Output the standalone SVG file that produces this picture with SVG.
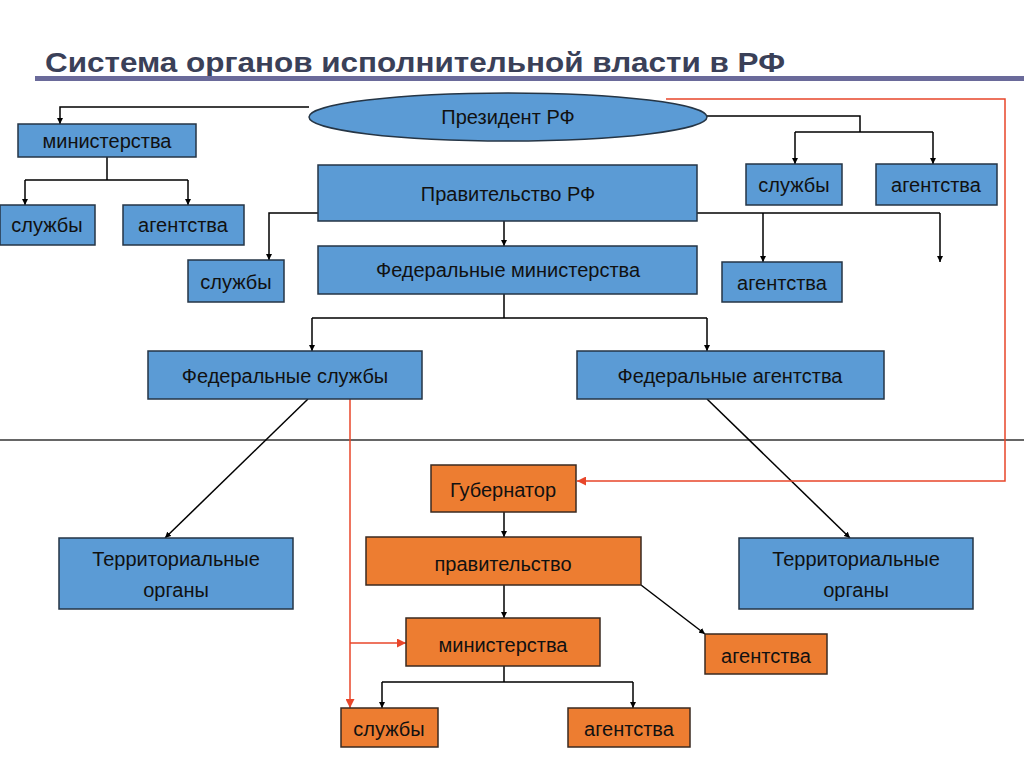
<svg xmlns="http://www.w3.org/2000/svg" width="1024" height="767" viewBox="0 0 1024 767">
<defs>
<marker id="a" viewBox="0 0 10 10" refX="10" refY="5" markerWidth="6" markerHeight="6" orient="auto" markerUnits="userSpaceOnUse"><path d="M0,0L10,5L0,10z" fill="#000"/></marker>
<marker id="r" viewBox="0 0 10 10" refX="10" refY="5" markerWidth="9" markerHeight="9" orient="auto" markerUnits="userSpaceOnUse"><path d="M0,0L10,5L0,10z" fill="#e8462a"/></marker>
<style>
.b{fill:#5b9bd5;stroke:#253545;stroke-width:1.5}
.o{fill:#ed7d31;stroke:#3a2a20;stroke-width:1.5}
text{font-family:"Liberation Sans",Arial,sans-serif;font-size:20px;fill:#111;text-anchor:middle}
.k{fill:none;stroke:#000;stroke-width:1.5}
.ka{fill:none;stroke:#000;stroke-width:1.5;marker-end:url(#a)}
.ra{fill:none;stroke:#e8462a;stroke-width:1.5;marker-end:url(#r)}
</style>
</defs>
<rect width="1024" height="767" fill="#fff"/>
<text x="45" y="72" style="font-size:28px;font-weight:bold;fill:#3a4058;text-anchor:start" textLength="740" lengthAdjust="spacingAndGlyphs">Система органов исполнительной власти в РФ</text>
<rect x="35" y="76" width="989" height="5" fill="#6a6a9a"/>
<line x1="0" y1="440" x2="1024" y2="440" stroke="#333" stroke-width="1.3"/>
<g id="connectors">
<path class="ka" d="M309,107H60V124"/>
<path class="k" d="M107,157V180M25,180H188"/>
<path class="ka" d="M25,180V205"/><path class="ka" d="M188,180V205"/>
<path class="k" d="M706,116H860V132M795,132H933"/>
<path class="ka" d="M795,132V164"/><path class="ka" d="M933,132V164"/>
<path class="ka" d="M318,213H269V260"/>
<path class="ka" d="M504,221V246"/>
<path class="k" d="M697,213H940"/>
<path class="ka" d="M763,213V262"/><path class="ka" d="M940,213V262"/>
<path class="k" d="M504,294V318M312,318H707"/>
<path class="ka" d="M312,318V351"/><path class="ka" d="M707,318V351"/>
<path class="ka" d="M308,399L165,538"/>
<path class="ka" d="M707,399L850,538"/>
<path class="ra" d="M666,99H1005V481H577"/>
<path class="ra" d="M350,399V708"/>
<path class="ra" d="M350,643H406"/>
<path class="ka" d="M504,512V537"/>
<path class="ka" d="M504,585V618"/>
<path class="ka" d="M641,585L705,634"/>
<path class="k" d="M504,666V682M382,682H633"/>
<path class="ka" d="M382,682V708"/><path class="ka" d="M633,682V708"/>
</g>
<g id="president"><ellipse class="b" cx="508" cy="117" rx="199" ry="24"/><text x="508" y="124">Президент РФ</text></g>
<g id="min1"><rect class="b" x="18" y="124" width="178" height="33"/><text x="107" y="148">министерства</text></g>
<g id="sl1"><rect class="b" x="0" y="205" width="95" height="40"/><text x="47" y="232">службы</text></g>
<g id="ag1"><rect class="b" x="123" y="205" width="121" height="40"/><text x="183" y="232">агентства</text></g>
<g id="sl2"><rect class="b" x="746" y="164" width="96" height="41"/><text x="794" y="192">службы</text></g>
<g id="ag2"><rect class="b" x="876" y="164" width="121" height="41"/><text x="936" y="192">агентства</text></g>
<g id="gov"><rect class="b" x="318" y="165" width="379" height="56"/><text x="508" y="201">Правительство РФ</text></g>
<g id="sl3"><rect class="b" x="188" y="260" width="96" height="42"/><text x="236" y="289">службы</text></g>
<g id="fedmin"><rect class="b" x="318" y="246" width="379" height="48"/><text x="508" y="277">Федеральные министерства</text></g>
<g id="ag3"><rect class="b" x="722" y="262" width="120" height="40"/><text x="782" y="290">агентства</text></g>
<g id="fedsl"><rect class="b" x="148" y="351" width="274" height="48"/><text x="285" y="383">Федеральные службы</text></g>
<g id="fedag"><rect class="b" x="577" y="351" width="307" height="48"/><text x="730" y="383">Федеральные агентства</text></g>
<g id="terr1"><rect class="b" x="59" y="538" width="234" height="71"/><text x="176" y="566">Территориальные</text><text x="176" y="597">органы</text></g>
<g id="terr2"><rect class="b" x="739" y="538" width="234" height="71"/><text x="856" y="566">Территориальные</text><text x="856" y="597">органы</text></g>
<g id="gub"><rect class="o" x="431" y="465" width="145" height="47"/><text x="503" y="497">Губернатор</text></g>
<g id="pr"><rect class="o" x="366" y="537" width="275" height="48"/><text x="503" y="571">правительство</text></g>
<g id="min2"><rect class="o" x="406" y="618" width="194" height="48"/><text x="503" y="652">министерства</text></g>
<g id="ag4"><rect class="o" x="705" y="634" width="122" height="40"/><text x="766" y="663">агентства</text></g>
<g id="sl4"><rect class="o" x="341" y="708" width="97" height="39"/><text x="389" y="736">службы</text></g>
<g id="ag5"><rect class="o" x="568" y="708" width="122" height="39"/><text x="629" y="736">агентства</text></g>
</svg>
